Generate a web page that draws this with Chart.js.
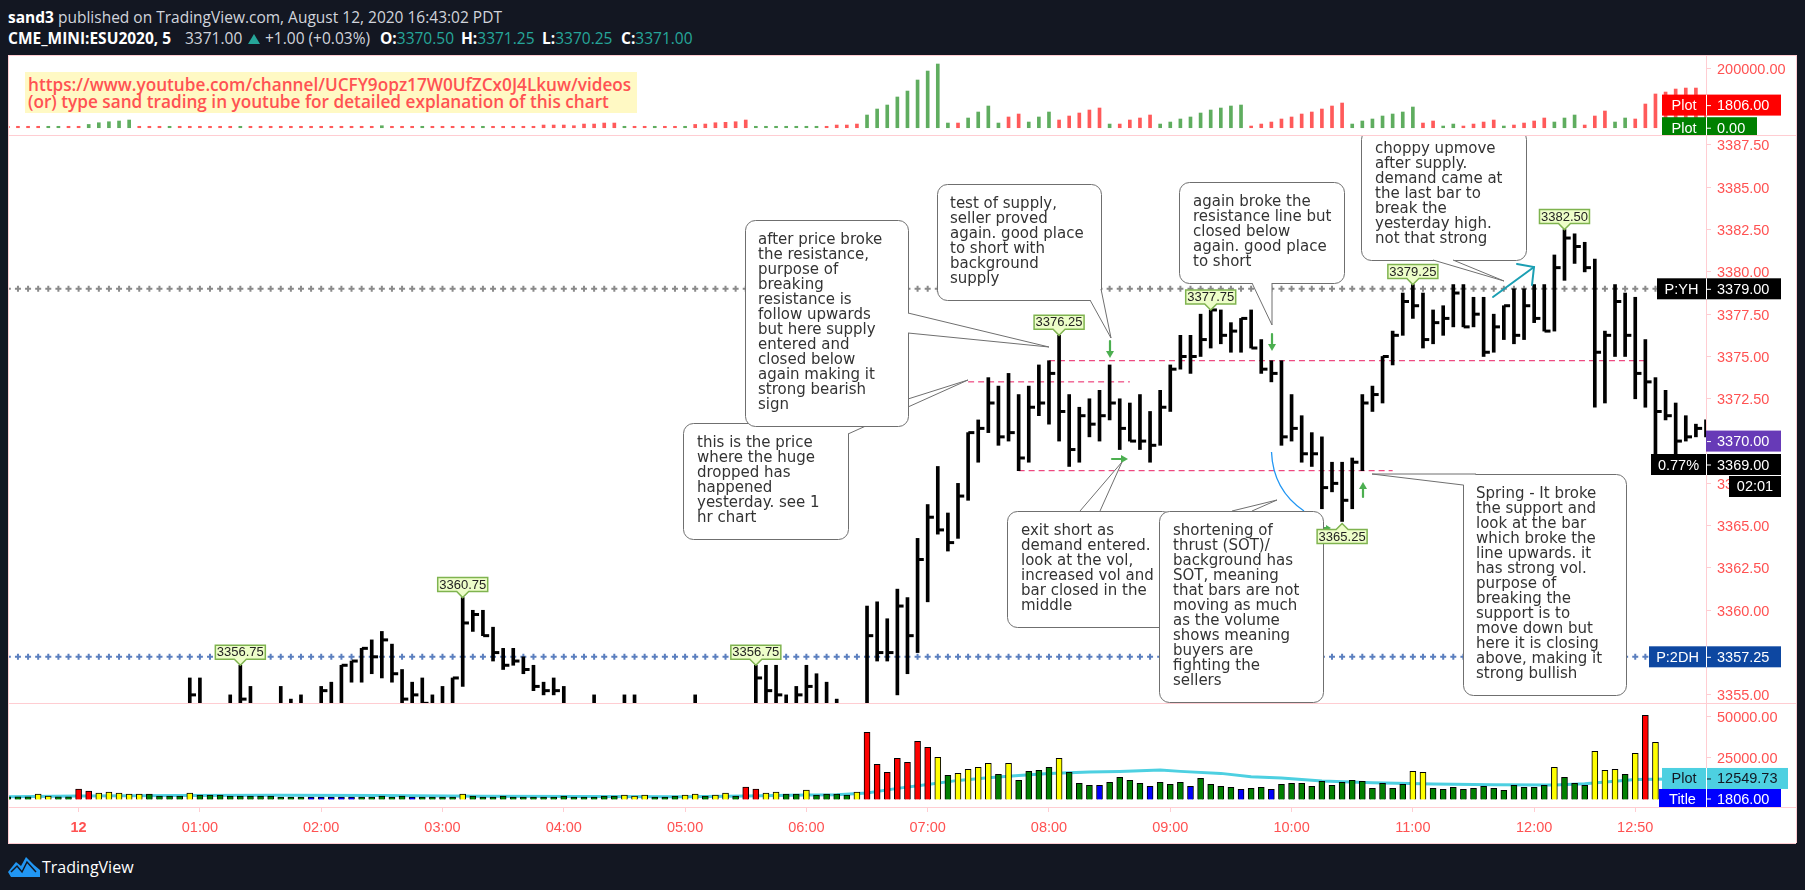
<!DOCTYPE html>
<html>
<head>
<meta charset="utf-8">
<title>ESU2020 5 min</title>
<script src="https://cdn.jsdelivr.net/npm/chart.js@4/dist/chart.umd.min.js"></script>
<style>
html, body { margin: 0; padding: 0; background: #131722; width: 1805px; height: 890px; overflow: hidden; }
body { position: relative; font-family: "Open Sans", sans-serif; color: #d1d4dc; }
canvas { position: absolute; left: 8px; display: block; }
.hd { position: absolute; font-size: 15.5px; white-space: nowrap; line-height: 18px; }
.hd b { color: #fff; }
.teal { color: #26a69a; }
.tri { position: absolute; left: 248px; top: 34px; width: 12px; height: 10px; background: #26a69a; clip-path: polygon(50% 0, 100% 100%, 0 100%); }
.frame { position: absolute; background: #fff; left: 8px; top: 55px; width: 1788px; height: 788px; }
.rule { position: absolute; background: #ffcdd2; z-index: 5; }
#notice { position: absolute; z-index: 6; left: 25px; top: 72px; width: 612px; height: 41px; background: #fff9c4; color: #ff5252;
  font: 600 17.2px/17px "Open Sans", sans-serif; white-space: nowrap; padding-left: 3px; box-sizing: border-box; padding-top: 4px; }
#brand { position: absolute; left: 42px; top: 857px; font-size: 16px; line-height: 20px; color: #fff; }
#logo { position: absolute; left: 8px; top: 857px; }
</style>
</head>
<body>
<div class="hd" style="left:8px;top:8px"><b>sand3</b> published on TradingView.com, August 12, 2020 16:43:02 PDT</div>
<div class="hd" style="left:8px;top:29px"><b>CME_MINI:ESU2020, 5</b></div>
<div class="hd" style="left:185px;top:29px">3371.00</div>
<div class="tri"></div>
<div class="hd" style="left:265px;top:29px">+1.00 (+0.03%)</div>
<div class="hd" style="left:380px;top:29px"><b>O:</b><span class="teal">3370.50</span></div>
<div class="hd" style="left:461px;top:29px"><b>H:</b><span class="teal">3371.25</span></div>
<div class="hd" style="left:542px;top:29px"><b>L:</b><span class="teal">3370.25</span></div>
<div class="hd" style="left:621px;top:29px"><b>C:</b><span class="teal">3371.00</span></div>

<div class="frame"></div>
<canvas id="topPane" width="1788" height="80" style="top:55px;width:1788px;height:80px"></canvas>
<canvas id="mainPane" width="1788" height="568" style="top:135px;width:1788px;height:568px"></canvas>
<canvas id="volPane" width="1788" height="140" style="top:703px;width:1788px;height:140px"></canvas>

<div class="rule" style="left:8px;top:55px;width:1788px;height:1px"></div>
<div class="rule" style="left:8px;top:135px;width:1788px;height:1px"></div>
<div class="rule" style="left:8px;top:703px;width:1788px;height:1px"></div>
<div class="rule" style="left:8px;top:807px;width:1788px;height:1px"></div>
<div class="rule" style="left:8px;top:843px;width:1788px;height:1px"></div>
<div class="rule" style="left:8px;top:55px;width:1px;height:788px"></div>
<div class="rule" style="left:1796px;top:55px;width:1px;height:788px"></div>

<div id="notice">https://www.youtube.com/channel/UCFY9opz17W0UfZCx0J4Lkuw/videos<br>(or) type sand trading in youtube for detailed explanation of this chart</div>

<svg id="logo" width="32" height="20" viewBox="0 0 32 20">
  <path d="M0 15 L8 5 L13 9 L18 0 L26 8 L32 13 L32 20 L3 20 Z" fill="#2196f3"/>
  <path d="M3 15 L9 9 L14 15 L19 5 L28 15" fill="none" stroke="#131722" stroke-width="1.5"/>
</svg>
<div id="brand">TradingView</div>

<script>
// bar numbers, 0 is midnight, every bar is 5 min
const firstBar = -7;
const lastBar = 161;

const timeTickBars = [0, 12, 24, 36, 48, 60, 72, 84, 96, 108, 120, 132, 144, 154];
const timeTickLabels = ['12', '01:00', '02:00', '03:00', '04:00', '05:00', '06:00', '07:00', '08:00', '09:00', '10:00', '11:00', '12:00', '12:50'];
const priceTicks = [3355, 3357.5, 3360, 3362.5, 3365, 3367.5, 3370, 3372.5, 3375, 3377.5, 3380, 3382.5, 3385, 3387.5];
const volTicks = [25000, 50000];
const planTicks = [200000];

// price bars start at bar 11, null = below the visible range
const priceFirstBar = 11;
const highs = [
  3356, 3356, null, null, 3355, 3356.75, 3355.5, null, null, 3355.5,
  3354.75, 3355, null, 3355.5, 3355.75, 3356.75, 3357, 3357.75, 3358.25, 3358.75,
  3358, 3356.5, 3355.75, 3356, 3355, 3355.5, 3356, 3360.75, 3360, 3360,
  3359, 3357.75, 3357.75, 3357.25, 3356.75, 3355.75, 3356, 3355.5, null, null,
  3355, null, null, 3355, 3355, null, null, null, null, null,
  3355, null, null, null, null, null, 3356.75, 3356.75, 3356.75, 3355,
  3355.5, 3356.75, 3356.25, 3355.75, 3354.75, null, null, 3360.25, 3360.5, 3359.5,
  3361.25, 3360.75, 3364.25, 3366.25, 3368.5, 3365.75, 3367.5, 3370.5, 3371.25, 3373.75,
  3373.25, 3374, 3372.75, 3373.25, 3374.5, 3374.75, 3376.25, 3372.75, 3372, 3372.5,
  3373, 3374.5, 3372.5, 3372.25, 3372.75, 3371.75, 3373, 3374.5, 3376.25, 3376.25,
  3377.5, 3377.75, 3377.75, 3377, 3377.25, 3377.75, 3376, 3374.75, 3374.75, 3372.75,
  3371.5, 3370.5, 3370.25, 3368.75, 3368.75, 3369, 3372.75, 3373.25, 3375, 3376.5,
  3378.75, 3379.25, 3378.75, 3377.75, 3378, 3379.25, 3379.25, 3378.5, 3378.5, 3377.5,
  3378, 3379, 3379, 3379.25, 3379.25, 3381, 3382.5, 3382.25, 3381.75, 3380.75,
  3376.5, 3379.25, 3378.75, 3378.5, 3376, 3373.75, 3373, 3372.25, 3371.5, 3371,
  3371.25
];
const lows = [
  3354.25, 3354.25, null, null, 3354.25, 3354.25, 3354.25, null, null, 3354.25,
  3354.25, 3354.25, null, 3354.25, 3354.25, 3354.25, 3355.75, 3355.75, 3356.25, 3356,
  3355.75, 3354.25, 3354.25, 3354.25, 3354.25, 3354.25, 3354.25, 3355.5, 3358.75, 3358.5,
  3357, 3356.5, 3356.75, 3356.25, 3355.25, 3355, 3355, 3354.25, null, null,
  3354.25, null, null, 3354.25, 3354.25, null, null, null, null, null,
  3354.25, null, null, null, null, null, 3354.25, 3354.25, 3354.25, 3354.25,
  3354.25, 3354.25, 3354.25, 3354.25, 3354.25, null, null, 3354.25, 3357, 3357,
  3355, 3356.25, 3357.5, 3360.5, 3364.5, 3363.5, 3364.25, 3366.5, 3368.75, 3370.5,
  3369.75, 3370, 3368.25, 3368.75, 3371.5, 3371, 3370, 3368.5, 3368.75, 3370.25,
  3370, 3371.25, 3369.5, 3370, 3369.5, 3368.75, 3369.75, 3371.75, 3374.25, 3374,
  3375, 3375.5, 3375.75, 3375.25, 3375.25, 3375.5, 3374, 3373.5, 3369.75, 3370,
  3368.75, 3368.5, 3366, 3367, 3365.25, 3366, 3368.25, 3371.75, 3372.25, 3374.5,
  3376.25, 3377.25, 3375.5, 3375.75, 3376.25, 3376.75, 3376.75, 3376.75, 3375, 3375.25,
  3376, 3375.75, 3376, 3377, 3376.5, 3376.5, 3379.5, 3380.5, 3380, 3372,
  3372.25, 3375, 3375, 3372.5, 3372, 3369, 3371.25, 3369, 3370, 3370.25,
  3370.25
];
const closes = [
  3355, null, null, null, null, 3354.75, null, null, null, null,
  null, null, null, 3355.25, null, 3356.75, 3357, 3357.75, 3357.25, 3358.25,
  3356.25, 3354.75, 3355, 3354.5, null, null, 3356, 3359.25, 3359.75, 3358.5,
  3357.5, 3356.75, 3357, 3356.5, 3355.5, 3355.25, 3355.25, null, null, null,
  null, null, null, null, null, null, null, null, null, null,
  null, null, null, null, null, null, 3356, 3355.25, 3355, null,
  3355, 3355.5, null, null, null, null, null, 3358.5, 3357.5, 3357.5,
  3360.25, 3358.5, 3363, 3365.5, 3364.75, 3364, 3366.75, 3370.5, 3370.75, 3372.25,
  3370.25, 3370.5, 3369, 3372, 3372.25, 3374, 3371.75, 3369.5, 3371.5, 3371,
  3371.5, 3372.25, 3370.75, 3370, 3370, 3369.75, 3372, 3374.25, 3375, 3375,
  3376, 3377.75, 3376.25, 3376.5, 3377.25, 3375.5, 3374.25, 3374, 3370.25, 3370.75,
  3369.25, 3369.25, 3367.25, 3367.5, 3366.5, 3368.75, 3372.25, 3372.75, 3375, 3376.25,
  3378.25, 3378, 3376, 3377, 3377.25, 3378.75, 3376.75, 3377.5, 3375.25, 3376.75,
  3378, 3376.25, 3378, 3377.25, 3376.5, 3380.25, 3382, 3381.5, 3380.25, 3375.25,
  3376.25, 3378.25, 3376.25, 3374, 3373.5, 3371.75, 3371.5, 3370, 3370.25, 3370.75,
  3371
];

// volume pane, from firstBar to lastBar
const volumes = [
  1600, 1600, 1600, 3200, 2000, 1600, 1600, 6200, 5000, 3800,
  4400, 3800, 3200, 3200, 3200, 2000, 2000, 2000, 3800, 2600,
  2600, 2600, 2000, 2000, 2000, 2000, 2000, 1400, 1400, 1400,
  1400, 1400, 1400, 1400, 1400, 1400, 1400, 2000, 1400, 2000,
  1400, 1400, 1400, 1400, 1400, 3200, 2000, 1400, 1400, 2000,
  1400, 1400, 1400, 1400, 1400, 2000, 1400, 1400, 1400, 2000,
  2000, 2600, 2000, 2600, 1400, 1400, 2000, 2600, 3200, 2000,
  2600, 3800, 2000, 7400, 6200, 3800, 4400, 3200, 3200, 5600,
  2600, 3200, 3200, 2600, 4400, 40200, 21000, 16200, 24600, 22200,
  34800, 31200, 25200, 14400, 15600, 18000, 19200, 21600, 15000, 21600,
  11400, 16800, 17400, 19200, 24600, 16200, 9600, 8400, 8400, 10200,
  13200, 11400, 9600, 7800, 10200, 9000, 10200, 7800, 12600, 9000,
  7800, 7200, 6000, 6600, 7200, 6000, 9000, 9600, 9600, 7800,
  10800, 8400, 10200, 11400, 10800, 6600, 9600, 6600, 9000, 16800,
  16200, 6600, 6000, 7200, 6000, 6600, 7800, 6600, 5400, 8400,
  7200, 7200, 8400, 19200, 13200, 9600, 8400, 28800, 17400, 18000,
  15000, 27600, 50400, 34200, 8400, 11400, 9000, 6000, 1806
];
// r = climax, y = high, g = normal, b = low
const volKinds = (
  'gggyyggrry' + 'yyyyggggyg' + 'gggggggggg' + 'bbbbbggggg' + 'bggggygggg' +
  'gggggggggg' + 'gyyygggyyg' + 'yygrryyggy' + 'ggggyrrrrr' + 'rrygyyyygy' +
  'ggggygggbg' + 'gggbgggbgg' + 'ggbggbgggg' + 'gggggggggy' + 'yggggggggg' +
  'gggygggyyy' + 'gyrygggggg'
).split('');
// moving average of volume, read at these bars
const avgBars = [-7, 0, 10, 20, 30, 40, 50, 60, 66, 72, 75, 78, 81, 84, 87, 90, 93, 96, 100, 103, 107, 109, 113, 116, 119, 123, 128, 134, 140, 146, 149, 154, 161];
const avgValues = [1600, 2000, 2400, 2500, 2400, 1900, 1700, 1600, 2000, 2600, 2800, 3800, 6600, 9000, 11400, 13000, 14400, 15600, 16400, 16800, 17600, 16800, 15600, 13600, 12800, 11000, 10000, 9200, 8800, 8600, 9400, 12000, 12549.73];

// top pane, from firstBar to lastBar
const planValues = [
  120, 120, 120, 120, 120, 120, 120, 120, 152, 189,
  215, 236, 268, 120, 120, 120, 120, 120, 120, 120,
  120, 120, 120, 120, 120, 120, 120, 120, 120, 120,
  120, 120, 120, 120, 120, 120, 120, 129, 120, 120,
  120, 120, 120, 120, 120, 120, 120, 120, 120, 120,
  120, 120, 120, 141, 141, 141, 129, 160, 160, 182,
  182, 120, 120, 120, 120, 120, 120, 120, 152, 160,
  189, 200, 215, 268, 120, 120, 120, 120, 120, 120,
  120, 120, 141, 141, 160, 508, 1094, 1825, 5092, 10900,
  44700, 141000, 346000, 182, 182, 346, 746, 1606, 182, 394,
  577, 207, 394, 746, 268, 447, 656, 963, 1244, 160,
  160, 268, 346, 508, 160, 207, 305, 394, 656, 963,
  1244, 1606, 1825, 124, 160, 207, 305, 394, 577, 746,
  1094, 1606, 2356, 160, 236, 305, 447, 577, 746, 1413,
  182, 236, 124, 160, 124, 160, 207, 268, 124, 141,
  182, 236, 346, 207, 346, 508, 141, 447, 847, 207,
  346, 305, 2074, 7480, 9600, 14100, 16000, 16000, 1806
];
const planSides = (
  'rrrrggrrgg' + 'gggrrrgrrr' + 'rrrgrrrrrr' + 'rrrrrrrgrr' + 'rgrrrrrgrr' +
  'rrrrrrrrrr' + 'rgrrgrrgrr' + 'rrrrgggggg' + 'grrrrggggg' + 'ggggrggggr' +
  'rgggrrrrrg' + 'rrrrgggggg' + 'gggrrrrrrr' + 'rrrggggggg' +
  'rrggrrrrgr' + 'rrrgggrrrg' + 'grrrrrrrr'
).split('');

// horizontal levels
const yesterdayHigh = 3379;
const twoDayHigh = 3357.25;
const levelBars = [];
for (let b = firstBar; b <= lastBar; b++) levelBars.push(b);
const resistanceBars = [96, 155];
const resistancePrice = 3374.75;
const hugeDropBars = [88, 104];
const hugeDropPrice = 3373.5;
const supportBars = [93, 130];
const supportPrice = 3368.25;

// high and low price tags
const tagBars = [16, 38, 67, 97, 112, 132, 147];
const tagPrices = [3356.75, 3360.75, 3356.75, 3376.25, 3377.75, 3379.25, 3382.5];
const lowTagBars = [125];
const lowTagPrices = [3365.25];

const RED_TEXT = '#ff5252';
const PINK = '#ffcdd2';
const UI_FONT = '"Liberation Sans", Arial, sans-serif';
const X_MIN = -6.985;
const PANE_LEFT = 8;
const AXIS_X = 1706;
const LABEL_RIGHT = 1781;

function noEdgePadding(s) {
  s.paddingTop = 0;
  s.paddingBottom = 0;
  s.paddingLeft = 0;
  s.paddingRight = 0;
}

function xAxis(showTicks) {
  return {
    type: 'linear', min: X_MIN, max: lastBar, offset: false, display: showTicks,
    afterBuildTicks: s => { s.ticks = timeTickBars.map(v => ({ value: v })); },
    afterFit: s => { noEdgePadding(s); if (showTicks) s.height = 36; },
    border: { display: false },
    grid: { display: showTicks, offset: false, drawOnChartArea: false, drawTicks: true, tickLength: 5, color: PINK },
    ticks: {
      autoSkip: false, maxRotation: 0, color: RED_TEXT, padding: 7,
      font: c => ({ family: UI_FONT, size: 14.5, weight: c.index === 0 ? 'bold' : 'normal' }),
      callback: v => timeTickLabels[timeTickBars.indexOf(v)]
    }
  };
}

function yAxis(extra, tickValues) {
  return Object.assign({
    position: 'right',
    afterBuildTicks: s => { s.ticks = tickValues.map(v => ({ value: v })); },
    afterFit: s => { noEdgePadding(s); s.width = 90; },
    border: { color: PINK },
    grid: { drawOnChartArea: false, drawTicks: true, tickLength: 5, color: PINK },
    ticks: { autoSkip: false, labelOffset: 1.5, color: RED_TEXT, padding: 6, font: { family: UI_FONT, size: 14.5 }, callback: v => Number(v).toFixed(2) }
  }, extra);
}

// value labels sitting on the price axis
function drawAxisLabel(ctx, l, yMid) {
  const h = l.height || 21;
  const top = yMid - h / 2;
  ctx.fillStyle = l.bg;
  ctx.fillRect(l.left, top, l.right - l.left, h);
  ctx.fillStyle = '#fff';
  if (l.left < AXIS_X) ctx.fillRect(AXIS_X, top, 1, h);
  ctx.fillStyle = l.fg;
  ctx.fillRect(AXIS_X + 1, yMid, 4, 1);
  ctx.font = '14.5px ' + UI_FONT;
  ctx.textBaseline = 'middle';
  ctx.textAlign = 'center';
  if (l.title) ctx.fillText(l.title, (l.left + AXIS_X) / 2, yMid + 1);
  ctx.textAlign = 'left';
  ctx.fillText(l.text, 1717, yMid + 1);
}

function labelPlugin(paneTop, labels) {
  return {
    id: 'axisLabels',
    afterDraw(chart) {
      const ctx = chart.ctx;
      ctx.save();
      ctx.translate(-PANE_LEFT, -paneTop);
      labels.forEach(l => {
        const y = l.y !== undefined ? l.y : chart.scales.y.getPixelForValue(l.at) + paneTop;
        drawAxisLabel(ctx, l, y);
      });
      ctx.restore();
    }
  };
}

const baseOptions = {
  responsive: false, animation: false, events: [],
  layout: { padding: 0, autoPadding: false },
  plugins: { legend: { display: false }, tooltip: { enabled: false } }
};

// top pane
new Chart(document.getElementById('topPane'), {
  type: 'bar',
  data: {
    datasets: [{
      data: planValues.map((v, i) => ({ x: firstBar + i, y: [100, v] })),
      backgroundColor: planSides.map(s => (s === 'g' ? '#5fad5f' : '#ff5a5a')),
      barThickness: 3, grouped: false
    }]
  },
  options: Object.assign({}, baseOptions, {
    scales: {
      x: xAxis(false),
      y: yAxis({ type: 'logarithmic', min: 39.4, max: 1096500 }, planTicks)
    }
  }),
  plugins: [labelPlugin(55, [
    { at: 1806, text: '1806.00', title: 'Plot', left: 1662, right: LABEL_RIGHT, bg: '#ff0000', fg: '#fff' },
    { at: 100, text: '0.00', title: 'Plot', left: 1662, right: 1757, bg: '#008000', fg: '#fff' }
  ])]
});

// callout boxes, page pixels
const callouts = [
  { box: [683, 423, 165, 116], textX: 697, lines: ['this is the price', 'where the huge', 'dropped has', 'happened', 'yesterday. see 1', 'hr chart'],
    pointer: [[832, 423], [968, 380], [848, 434]] },
  { box: [745, 220, 163, 206], textX: 758, lines: ['after price broke', 'the resistance,', 'purpose of', 'breaking', 'resistance is', 'follow upwards', 'but here supply', 'entered and', 'closed below', 'again making it', 'strong bearish', 'sign'],
    pointer: [[908, 313], [1049, 347], [908, 333]] },
  { box: [937, 184, 164, 116], textX: 950, lines: ['test of supply,', 'seller proved', 'again. good place', 'to short with', 'background', 'supply'],
    pointer: [[1090, 300], [1111, 338], [1101, 289]] },
  { box: [1179, 182, 165, 101], textX: 1193, lines: ['again broke the', 'resistance line but', 'closed below', 'again. good place', 'to short'],
    pointer: [[1252, 283], [1272, 325], [1272, 283]] },
  { box: [1361, 129, 165, 131], textX: 1375, lines: ['choppy upmove', 'after supply.', 'demand came at', 'the last bar to', 'break the', 'yesterday high.', 'not that strong'],
    pointer: [[1433, 260], [1504, 281], [1453, 260]] },
  { box: [1007, 511, 165, 116], textX: 1021, lines: ['exit short as', 'demand entered.', 'look at the vol,', 'increased vol and', 'bar closed in the', 'middle'],
    pointer: [[1080, 511], [1122, 462], [1100, 511]] },
  { box: [1159, 511, 164, 191], textX: 1173, lines: ['shortening of', 'thrust (SOT)/', 'background has', 'SOT, meaning', 'that bars are not', 'moving as much', 'as the volume', 'shows meaning', 'buyers are', 'fighting the', 'sellers'],
    pointer: [[1232, 511], [1277, 500], [1252, 511]] },
  { box: [1463, 474, 163, 221], textX: 1476, lines: ['Spring - It broke', 'the support and', 'look at the bar', 'which broke the', 'line upwards. it', 'has strong vol.', 'purpose of', 'breaking the', 'support is to', 'move down but', 'here it is closing', 'above, making it', 'strong bullish'],
    pointer: [[1463, 485], [1372, 474], [1476, 474]] }
];

function drawLines(ctx, segs, color, width) {
  ctx.strokeStyle = color;
  ctx.lineWidth = width;
  ctx.lineCap = 'round';
  segs.forEach(seg => {
    ctx.beginPath();
    seg.forEach((p, i) => (i ? ctx.lineTo(p[0], p[1]) : ctx.moveTo(p[0], p[1])));
    ctx.stroke();
  });
  ctx.lineCap = 'butt';
}

// small solid arrow, shaft then triangular head
function drawSignal(ctx, shaft, head) {
  const green = '#4caf50';
  drawLines(ctx, [shaft], green, 2.2);
  ctx.fillStyle = green;
  ctx.beginPath();
  head.forEach((p, i) => (i ? ctx.lineTo(p[0], p[1]) : ctx.moveTo(p[0], p[1])));
  ctx.closePath();
  ctx.fill();
}

function drawCallout(ctx, c) {
  const [x, y, w, h] = c.box;
  ctx.lineWidth = 1;
  ctx.strokeStyle = '#6f6f6f';
  ctx.fillStyle = '#fff';
  ctx.beginPath();
  ctx.roundRect(x + 0.5, y + 0.5, w, h, 10);
  ctx.fill();
  ctx.stroke();
  const [a, tip, b] = c.pointer;
  ctx.beginPath();
  ctx.moveTo(a[0], a[1]);
  ctx.lineTo(tip[0], tip[1]);
  ctx.lineTo(b[0], b[1]);
  ctx.closePath();
  ctx.fill();
  ctx.beginPath();
  ctx.moveTo(a[0], a[1]);
  ctx.lineTo(tip[0], tip[1]);
  ctx.lineTo(b[0], b[1]);
  ctx.stroke();
  ctx.fillStyle = '#333';
  ctx.font = '15px "DejaVu Sans", sans-serif';
  ctx.textAlign = 'left';
  ctx.textBaseline = 'middle';
  c.lines.forEach((t, i) => ctx.fillText(t, c.textX, y + 20 + i * 15));
}

function drawPriceTag(ctx, x, y, text, below) {
  const w = 50, h = 14, nub = 6;
  const dir = below ? 1 : -1;
  const near = y + dir * nub;
  const far = near + dir * h;
  const top = Math.min(near, far);
  ctx.fillStyle = '#edfdc9';
  ctx.strokeStyle = '#7fb34f';
  ctx.lineWidth = 1.5;
  ctx.beginPath();
  ctx.moveTo(x, y);
  ctx.lineTo(x + nub, near);
  ctx.lineTo(x + w / 2, near);
  ctx.lineTo(x + w / 2, far);
  ctx.lineTo(x - w / 2, far);
  ctx.lineTo(x - w / 2, near);
  ctx.lineTo(x - nub, near);
  ctx.closePath();
  ctx.fill();
  ctx.stroke();
  ctx.fillStyle = '#222';
  ctx.font = '13px ' + UI_FONT;
  ctx.textAlign = 'center';
  ctx.textBaseline = 'middle';
  ctx.fillText(text, x, top + h / 2 + 0.5);
}

const annotationPlugin = {
  id: 'annotations',
  afterDatasetsDraw(chart) {
    const ctx = chart.ctx;
    const xs = chart.scales.x, ys = chart.scales.y;
    ctx.save();
    ctx.translate(-PANE_LEFT, -135);

    // small signal arrows
    drawSignal(ctx, [[1110, 341], [1110, 352]], [[1106, 351], [1110, 358], [1114, 351]]);
    drawSignal(ctx, [[1272, 334], [1272, 345]], [[1268, 344], [1272, 351], [1276, 344]]);
    drawSignal(ctx, [[1112, 459], [1122, 459]], [[1121, 455], [1128, 459], [1121, 463]]);
    drawSignal(ctx, [[1363, 497], [1363, 487]], [[1359, 489], [1363, 482], [1367, 489]]);
    drawSignal(ctx, [[1323, 528], [1327, 528]], [[1326, 525], [1331, 528], [1326, 531]]);
    drawLines(ctx, [[[1493, 297], [1534, 267]], [[1517, 264], [1534, 267], [1532, 285]]], '#1b9fb3', 2);

    // curved shortening of thrust marker
    ctx.strokeStyle = '#2196f3';
    ctx.lineWidth = 1.3;
    ctx.beginPath();
    ctx.moveTo(1271.5, 452);
    ctx.quadraticCurveTo(1273, 490, 1304, 511);
    ctx.stroke();

    callouts.forEach(c => drawCallout(ctx, c));

    tagBars.forEach((b, i) => {
      drawPriceTag(ctx, xs.getPixelForValue(b) + PANE_LEFT, ys.getPixelForValue(tagPrices[i]) + 135, tagPrices[i].toFixed(2), false);
    });
    lowTagBars.forEach((b, i) => {
      drawPriceTag(ctx, xs.getPixelForValue(b) + PANE_LEFT, ys.getPixelForValue(lowTagPrices[i]) + 135 + 2, lowTagPrices[i].toFixed(2), true);
    });
    ctx.restore();
  }
};

function levelSet(bars, price, color) {
  return {
    type: 'line', data: bars.map(b => ({ x: b, y: price })), borderColor: color, borderWidth: 1,
    borderDash: [6, 4], pointRadius: 0, order: 3
  };
}

function crossSet(price, color) {
  return {
    type: 'scatter', data: levelBars.map(b => ({ x: b, y: price })), borderColor: color, backgroundColor: color,
    pointStyle: 'cross', pointRadius: 3, borderWidth: 2, order: 4
  };
}

const stemData = [];
const closeData = [];
highs.forEach((h, i) => {
  if (h === null) return;
  stemData.push({ x: priceFirstBar + i, y: [lows[i], h] });
  if (closes[i] !== null) closeData.push({ x: priceFirstBar + i + 0.32, y: closes[i] });
});

// main pane
new Chart(document.getElementById('mainPane'), {
  type: 'bar',
  data: {
    datasets: [
      crossSet(yesterdayHigh, '#8a8a8a'),
      crossSet(twoDayHigh, '#5b7fbf'),
      levelSet(resistanceBars, resistancePrice, '#e91e63'),
      levelSet(hugeDropBars, hugeDropPrice, '#e91e63'),
      levelSet(supportBars, supportPrice, '#e91e63'),
      { type: 'bar', data: stemData, backgroundColor: '#000', barThickness: 3, grouped: false, order: 1 },
      { type: 'scatter', data: closeData, borderColor: '#000', pointStyle: 'line', pointRadius: 3, borderWidth: 3, order: 1 }
    ]
  },
  options: Object.assign({}, baseOptions, {
    scales: {
      x: xAxis(false),
      y: yAxis({ type: 'linear', min: 3354.52, max: 3388.09 }, priceTicks)
    }
  }),
  plugins: [annotationPlugin, labelPlugin(135, [
    { at: 3379, text: '3379.00', title: 'P:YH', left: 1657, right: LABEL_RIGHT, bg: '#000', fg: '#fff' },
    { at: 3370, text: '3370.00', left: AXIS_X, right: LABEL_RIGHT, bg: '#673ab7', fg: '#fff' },
    { y: 464.5, text: '3369.00', title: '0.77%', left: 1651, right: LABEL_RIGHT, bg: '#000', fg: '#fff' },
    { at: twoDayHigh, text: '3357.25', title: 'P:2DH', left: 1649, right: LABEL_RIGHT, bg: '#0d47a1', fg: '#fff' }
  ]), {
    id: 'countdown',
    afterDraw(chart) {
      const ctx = chart.ctx;
      ctx.save();
      ctx.translate(-PANE_LEFT, -135);
      ctx.fillStyle = '#000';
      ctx.fillRect(1729, 476, LABEL_RIGHT - 1729, 21);
      ctx.fillStyle = '#fff';
      ctx.font = '14.5px ' + UI_FONT;
      ctx.textAlign = 'center';
      ctx.textBaseline = 'middle';
      ctx.fillText('02:01', 1755, 487);
      ctx.restore();
    }
  }]
});

// volume pane
new Chart(document.getElementById('volPane'), {
  type: 'bar',
  data: {
    datasets: [
      { type: 'line', data: avgBars.map((b, i) => ({ x: b, y: avgValues[i] })), borderColor: '#4dd0e1', borderWidth: 3, pointRadius: 0, order: 3 },
      {
        type: 'bar', data: volumes.map((v, i) => ({ x: firstBar + i, y: v })),
        backgroundColor: volKinds.map(k => ({ r: '#ff0000', y: '#ffff00', g: '#008000', b: '#0000ff' }[k])),
        borderColor: '#000', borderWidth: 1, barThickness: 6, grouped: false, order: 1
      }
    ]
  },
  options: Object.assign({}, baseOptions, {
    scales: {
      x: xAxis(true),
      y: yAxis({ type: 'linear', min: -4556, max: 57794 }, volTicks)
    }
  }),
  plugins: [labelPlugin(703, [
    { at: 12549.73, text: '12549.73', title: 'Plot', left: 1662, right: 1788, bg: '#4dd0e1', fg: '#131722' },
    { y: 798.5, height: 19, text: '1806.00', title: 'Title', left: 1659, right: LABEL_RIGHT, bg: '#0000ff', fg: '#fff' }
  ])]
});
</script>
</body>
</html>
